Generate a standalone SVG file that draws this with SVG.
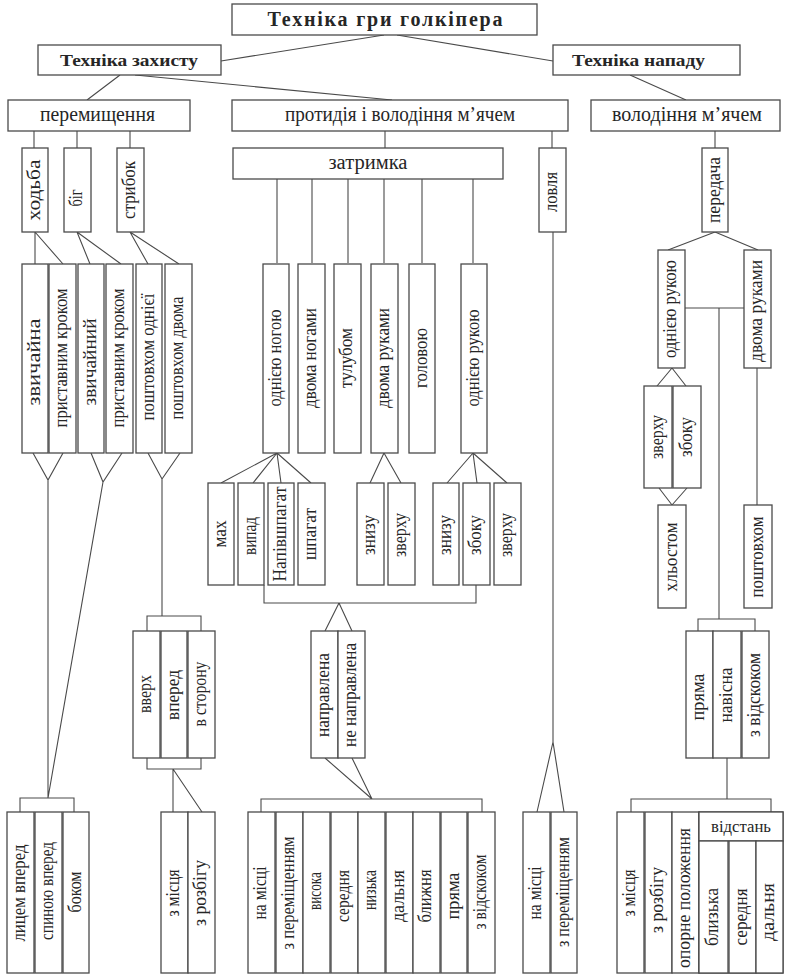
<svg xmlns="http://www.w3.org/2000/svg" width="789" height="976" viewBox="0 0 789 976">
<style>
.b{fill:#fff;stroke:#4a4a4a;stroke-width:1.3}
.l{fill:none;stroke:#4a4a4a;stroke-width:1.1}
text{font-family:"Liberation Serif","DejaVu Serif",serif;fill:#262626}
.hb{font-weight:bold;text-anchor:middle}
.h{font-size:20px;text-anchor:middle}
.v{font-size:18px;text-anchor:middle}
</style>
<rect width="789" height="976" fill="#fff"/>
<g id="connectors">
<path class="l" d="M384,35 L221,61 M397,35 L553,61 M120,75 L87,100 M135,75 L392,100 M630,75 L686,100"/>
<path class="l" d="M34,131 V148 M77,131 V148 M130,131 V148 M385,131 V148 M552,131 V148 M715,131 V148"/>
<path class="l" d="M277,179 V263 M312,179 V263 M348,179 V263 M384,179 V263 M422,179 V263 M473,179 V263"/>
<path class="l" d="M35,232 L35,264 M35,232 L63,264 M77,232 L90,264 M77,232 L121,264 M130,232 L148,264 M130,232 L179,264"/>
<path class="l" d="M33,453 L48,480 L63,453 M48,480 V798 M91,453 L103,482 L122,453 M103,482 L48,798 M148,453 L162,479 L180,453 M162,479 V616"/>
<path class="l" d="M147,631 V616 H201 V631 M147,758 V769 H201 V758 M173,769 V812 M173,769 L202,812 M20,812 V798 H74 V812"/>
<path class="l" d="M277,453 L221,483 M277,453 L253,483 M277,453 L281,483 M277,453 L311,483 M384,453 L370,483 M384,453 L401,483 M473,453 L447,483 M473,453 L477,483 M473,453 L507,483"/>
<path class="l" d="M264,585 V603 H476 V585 M339,603 L325,631 M339,603 L352,631 M325,758 L372,799 M352,758 L372,799 M261,812 V799 H482 V812"/>
<path class="l" d="M553,232 V742 M553,742 L537,812 M553,742 L564,812"/>
<path class="l" d="M715,232 L668,250 M715,232 L758,250 M685,308 H744 M719,308 V619 M698,631 V619 H755 V631 M672,368 L657,386 M672,368 L686,386 M659,488 L672,505 L687,488 M757,368 V505 M727,758 V799 M631,812 V799 H771 V812"/>
</g>
<g id="n_root"><rect class="b" x="232" y="4" width="305" height="31"/><text class="hb" x="385" y="26" font-size="20" textLength="235" lengthAdjust="spacing">Техніка гри голкіпера</text></g>
<g id="n_zakhyst"><rect class="b" x="38" y="45" width="183" height="30"/><text class="hb" x="129" y="66" font-size="17" textLength="138" lengthAdjust="spacingAndGlyphs">Техніка захисту</text></g>
<g id="n_napad"><rect class="b" x="553" y="45" width="187" height="30"/><text class="hb" x="638.5" y="66" font-size="17" textLength="133" lengthAdjust="spacingAndGlyphs">Техніка нападу</text></g>
<g id="n_perem"><rect class="b" x="8" y="100" width="182" height="31"/><text class="h" x="97.5" y="121" textLength="115" lengthAdjust="spacingAndGlyphs">перемищення</text></g>
<g id="n_protydiya"><rect class="b" x="232" y="100" width="336" height="31"/><text class="h" x="400" y="121" textLength="230" lengthAdjust="spacingAndGlyphs">протидія і володіння м’ячем</text></g>
<g id="n_volod"><rect class="b" x="591" y="100" width="189" height="31"/><text class="h" x="687" y="121" textLength="150" lengthAdjust="spacingAndGlyphs">володіння м’ячем</text></g>
<g id="n_zatrymka"><rect class="b" x="233" y="148" width="270" height="31"/><text class="h" x="368" y="169" textLength="79" lengthAdjust="spacingAndGlyphs">затримка</text></g>

<g id="n_khodba"><rect class="b" x="22" y="148" width="26" height="84"/><text class="v" transform="translate(39.5,190) rotate(-90)" textLength="61" lengthAdjust="spacingAndGlyphs">ходьба</text></g>
<g id="n_bih"><rect class="b" x="64" y="148" width="27" height="84"/><text class="v" transform="translate(82,198) rotate(-90)" textLength="17" lengthAdjust="spacingAndGlyphs">біг</text></g>
<g id="n_strybok"><rect class="b" x="117" y="148" width="27" height="84"/><text class="v" transform="translate(135,190) rotate(-90)" textLength="58" lengthAdjust="spacingAndGlyphs">стрибок</text></g>
<g id="n_lovlya"><rect class="b" x="539" y="148" width="27" height="84"/><text class="v" transform="translate(557,192) rotate(-90)" textLength="40" lengthAdjust="spacingAndGlyphs">ловля</text></g>
<g id="n_peredacha"><rect class="b" x="702" y="148" width="26" height="84"/><text class="v" transform="translate(719.5,190) rotate(-90)" textLength="66" lengthAdjust="spacingAndGlyphs">передача</text></g>

<g id="n_zvych1"><rect class="b" x="22" y="264" width="26" height="189"/><text class="v" transform="translate(39.5,362) rotate(-90)" textLength="87" lengthAdjust="spacingAndGlyphs">звичайна</text></g>
<g id="n_pryst1"><rect class="b" x="49" y="264" width="27" height="189"/><text class="v" transform="translate(67,358) rotate(-90)" textLength="139" lengthAdjust="spacingAndGlyphs">приставним кроком</text></g>
<g id="n_zvych2"><rect class="b" x="78" y="264" width="26" height="189"/><text class="v" transform="translate(95.5,362) rotate(-90)" textLength="87" lengthAdjust="spacingAndGlyphs">звичайний</text></g>
<g id="n_pryst2"><rect class="b" x="106" y="264" width="27" height="189"/><text class="v" transform="translate(124,358) rotate(-90)" textLength="139" lengthAdjust="spacingAndGlyphs">приставним кроком</text></g>
<g id="n_posht1"><rect class="b" x="136" y="264" width="26" height="189"/><text class="v" transform="translate(153.5,357) rotate(-90)" textLength="127" lengthAdjust="spacingAndGlyphs">поштовхом однієї</text></g>
<g id="n_posht2"><rect class="b" x="165" y="264" width="27" height="189"/><text class="v" transform="translate(183,358) rotate(-90)" textLength="123" lengthAdjust="spacingAndGlyphs">поштовхом двома</text></g>

<g id="n_odnoyu_nohoyu"><rect class="b" x="263" y="264" width="26" height="189"/><text class="v" transform="translate(280.5,358) rotate(-90)" textLength="97" lengthAdjust="spacingAndGlyphs">однією ногою</text></g>
<g id="n_dvoma_nohamy"><rect class="b" x="298" y="264" width="27" height="189"/><text class="v" transform="translate(316,358) rotate(-90)" textLength="100" lengthAdjust="spacingAndGlyphs">двома ногами</text></g>
<g id="n_tulubom"><rect class="b" x="334" y="264" width="27" height="189"/><text class="v" transform="translate(352,358) rotate(-90)" textLength="60" lengthAdjust="spacingAndGlyphs">тулубом</text></g>
<g id="n_dvoma_rukamy"><rect class="b" x="371" y="264" width="27" height="189"/><text class="v" transform="translate(389,358) rotate(-90)" textLength="100" lengthAdjust="spacingAndGlyphs">двома руками</text></g>
<g id="n_holovoyu"><rect class="b" x="409" y="264" width="26" height="189"/><text class="v" transform="translate(426.5,358) rotate(-90)" textLength="60" lengthAdjust="spacingAndGlyphs">головою</text></g>
<g id="n_odnoyu_rukoyu"><rect class="b" x="461" y="264" width="26" height="189"/><text class="v" transform="translate(478.5,358) rotate(-90)" textLength="97" lengthAdjust="spacingAndGlyphs">однією рукою</text></g>

<g id="n_r_odnoyu"><rect class="b" x="658" y="250" width="27" height="118"/><text class="v" transform="translate(676,309) rotate(-90)" textLength="98" lengthAdjust="spacingAndGlyphs">однією рукою</text></g>
<g id="n_r_dvoma"><rect class="b" x="744" y="250" width="27" height="118"/><text class="v" transform="translate(762,311) rotate(-90)" textLength="102" lengthAdjust="spacingAndGlyphs">двома руками</text></g>
<g id="n_r_zverkhu"><rect class="b" x="644" y="386" width="28" height="102"/><text class="v" transform="translate(662.5,437) rotate(-90)" textLength="44" lengthAdjust="spacingAndGlyphs">зверху</text></g>
<g id="n_r_zboku"><rect class="b" x="673" y="386" width="28" height="102"/><text class="v" transform="translate(691.5,437) rotate(-90)" textLength="40" lengthAdjust="spacingAndGlyphs">збоку</text></g>
<g id="n_khlostom"><rect class="b" x="658" y="505" width="28" height="103"/><text class="v" transform="translate(676.5,557) rotate(-90)" textLength="69" lengthAdjust="spacingAndGlyphs">хльостом</text></g>
<g id="n_r_poshtovkhom"><rect class="b" x="744" y="505" width="28" height="103"/><text class="v" transform="translate(762.5,557) rotate(-90)" textLength="81" lengthAdjust="spacingAndGlyphs">поштовхом</text></g>
<g id="n_r_pryama"><rect class="b" x="686" y="631" width="27" height="127"/><text class="v" transform="translate(704,697) rotate(-90)" textLength="47" lengthAdjust="spacingAndGlyphs">пряма</text></g>
<g id="n_r_navisna"><rect class="b" x="713" y="631" width="28" height="127"/><text class="v" transform="translate(731.5,695) rotate(-90)" textLength="55" lengthAdjust="spacingAndGlyphs">навісна</text></g>
<g id="n_r_vidskok"><rect class="b" x="742" y="631" width="27" height="127"/><text class="v" transform="translate(760,695) rotate(-90)" textLength="84" lengthAdjust="spacingAndGlyphs">з відскоком</text></g>

<g id="n_makh"><rect class="b" x="208" y="483" width="26" height="102"/><text class="v" transform="translate(225.5,534) rotate(-90)" textLength="27" lengthAdjust="spacingAndGlyphs">мах</text></g>
<g id="n_vypad"><rect class="b" x="238" y="483" width="26" height="102"/><text class="v" transform="translate(255.5,536) rotate(-90)" textLength="38" lengthAdjust="spacingAndGlyphs">випад</text></g>
<g id="n_napivshpahat"><rect class="b" x="268" y="483" width="26" height="102"/><text class="v" transform="translate(285.5,534) rotate(-90)" textLength="95" lengthAdjust="spacingAndGlyphs">Напівшпагат</text></g>
<g id="n_shpahat"><rect class="b" x="298" y="483" width="27" height="102"/><text class="v" transform="translate(316,534) rotate(-90)" textLength="52" lengthAdjust="spacingAndGlyphs">шпагат</text></g>
<g id="n_znyzu1"><rect class="b" x="357" y="483" width="27" height="102"/><text class="v" transform="translate(375,535) rotate(-90)" textLength="40" lengthAdjust="spacingAndGlyphs">знизу</text></g>
<g id="n_zverkhu1"><rect class="b" x="388" y="483" width="27" height="102"/><text class="v" transform="translate(406,535) rotate(-90)" textLength="44" lengthAdjust="spacingAndGlyphs">зверху</text></g>
<g id="n_znyzu2"><rect class="b" x="433" y="483" width="26" height="102"/><text class="v" transform="translate(450.5,535) rotate(-90)" textLength="40" lengthAdjust="spacingAndGlyphs">знизу</text></g>
<g id="n_zboku1"><rect class="b" x="463" y="483" width="27" height="102"/><text class="v" transform="translate(481,535) rotate(-90)" textLength="40" lengthAdjust="spacingAndGlyphs">збоку</text></g>
<g id="n_zverkhu2"><rect class="b" x="494" y="483" width="27" height="102"/><text class="v" transform="translate(512,535) rotate(-90)" textLength="44" lengthAdjust="spacingAndGlyphs">зверху</text></g>
<g id="n_napravlena"><rect class="b" x="311" y="631" width="27" height="127"/><text class="v" transform="translate(329,695) rotate(-90)" textLength="84" lengthAdjust="spacingAndGlyphs">направлена</text></g>
<g id="n_ne_napravlena"><rect class="b" x="338" y="631" width="27" height="127"/><text class="v" transform="translate(356,695) rotate(-90)" textLength="104" lengthAdjust="spacingAndGlyphs">не направлена</text></g>

<g id="n_vverkh"><rect class="b" x="133" y="631" width="27" height="127"/><text class="v" transform="translate(151,694) rotate(-90)" textLength="38" lengthAdjust="spacingAndGlyphs">вверх</text></g>
<g id="n_vpered"><rect class="b" x="161" y="631" width="26" height="127"/><text class="v" transform="translate(178.5,695) rotate(-90)" textLength="50" lengthAdjust="spacingAndGlyphs">вперед</text></g>
<g id="n_v_storonu"><rect class="b" x="188" y="631" width="27" height="127"/><text class="v" transform="translate(206,694) rotate(-90)" textLength="65" lengthAdjust="spacingAndGlyphs">в сторону</text></g>

<g id="n_lytsem"><rect class="b" x="7" y="812" width="27" height="161"/><text class="v" transform="translate(25,893) rotate(-90)" textLength="97" lengthAdjust="spacingAndGlyphs">лицем вперед</text></g>
<g id="n_spynoyu"><rect class="b" x="35" y="812" width="27" height="161"/><text class="v" transform="translate(53,891) rotate(-90)" textLength="98" lengthAdjust="spacingAndGlyphs">спиною вперед</text></g>
<g id="n_bokom"><rect class="b" x="63" y="812" width="26" height="161"/><text class="v" transform="translate(80.5,892) rotate(-90)" textLength="41" lengthAdjust="spacingAndGlyphs">боком</text></g>
<g id="n_z_mistsya1"><rect class="b" x="161" y="812" width="27" height="161"/><text class="v" transform="translate(179,893) rotate(-90)" textLength="47" lengthAdjust="spacingAndGlyphs">з місця</text></g>
<g id="n_z_rozbihu1"><rect class="b" x="188" y="812" width="27" height="161"/><text class="v" transform="translate(206,893) rotate(-90)" textLength="66" lengthAdjust="spacingAndGlyphs">з розбігу</text></g>

<g id="n_na_mistsi1"><rect class="b" x="248" y="812" width="27" height="161"/><text class="v" transform="translate(266,893) rotate(-90)" textLength="53" lengthAdjust="spacingAndGlyphs">на місці</text></g>
<g id="n_z_perem1"><rect class="b" x="276" y="812" width="27" height="161"/><text class="v" transform="translate(294,893) rotate(-90)" textLength="113" lengthAdjust="spacingAndGlyphs">з переміщенням</text></g>
<g id="n_vysoka"><rect class="b" x="303" y="812" width="27" height="161"/><text class="v" transform="translate(321,891) rotate(-90)" textLength="38" lengthAdjust="spacingAndGlyphs">висока</text></g>
<g id="n_serednya1"><rect class="b" x="331" y="812" width="27" height="161"/><text class="v" transform="translate(349,896) rotate(-90)" textLength="52" lengthAdjust="spacingAndGlyphs">середня</text></g>
<g id="n_nyzka"><rect class="b" x="358" y="812" width="27" height="161"/><text class="v" transform="translate(376,890) rotate(-90)" textLength="40" lengthAdjust="spacingAndGlyphs">низька</text></g>
<g id="n_dalnya1"><rect class="b" x="386" y="812" width="27" height="161"/><text class="v" transform="translate(404,896) rotate(-90)" textLength="52" lengthAdjust="spacingAndGlyphs">дальня</text></g>
<g id="n_blyzhnya"><rect class="b" x="413" y="812" width="27" height="161"/><text class="v" transform="translate(431,896) rotate(-90)" textLength="53" lengthAdjust="spacingAndGlyphs">ближня</text></g>
<g id="n_pryama1"><rect class="b" x="441" y="812" width="26" height="161"/><text class="v" transform="translate(458.5,896) rotate(-90)" textLength="47" lengthAdjust="spacingAndGlyphs">пряма</text></g>
<g id="n_vidskok1"><rect class="b" x="468" y="812" width="27" height="161"/><text class="v" transform="translate(486,892) rotate(-90)" textLength="75" lengthAdjust="spacingAndGlyphs">з відскоком</text></g>

<g id="n_na_mistsi2"><rect class="b" x="523" y="812" width="27" height="161"/><text class="v" transform="translate(541,893) rotate(-90)" textLength="53" lengthAdjust="spacingAndGlyphs">на місці</text></g>
<g id="n_z_perem2"><rect class="b" x="551" y="812" width="26" height="161"/><text class="v" transform="translate(568.5,892) rotate(-90)" textLength="110" lengthAdjust="spacingAndGlyphs">з переміщенням</text></g>

<g id="n_z_mistsya2"><rect class="b" x="617" y="812" width="27" height="161"/><text class="v" transform="translate(635,893) rotate(-90)" textLength="47" lengthAdjust="spacingAndGlyphs">з місця</text></g>
<g id="n_z_rozbihu2"><rect class="b" x="645" y="812" width="27" height="161"/><text class="v" transform="translate(663,900) rotate(-90)" textLength="66" lengthAdjust="spacingAndGlyphs">з розбігу</text></g>
<g id="n_oporne"><rect class="b" x="672" y="812" width="27" height="161"/><text class="v" transform="translate(690,898) rotate(-90)" textLength="140" lengthAdjust="spacingAndGlyphs">опорне положення</text></g>
<g id="n_vidstan">
<rect class="b" x="699" y="812" width="84" height="161"/>
<rect class="b" x="699" y="812" width="84" height="29"/>
<text x="741" y="832" font-size="17" text-anchor="middle" textLength="60" lengthAdjust="spacingAndGlyphs">відстань</text>
</g>
<g id="n_blyzka"><rect class="b" x="699" y="841" width="29" height="132"/><text class="v" transform="translate(718,917) rotate(-90)" textLength="58" lengthAdjust="spacingAndGlyphs">близька</text></g>
<g id="n_serednya2"><rect class="b" x="729" y="841" width="27" height="132"/><text class="v" transform="translate(747,917) rotate(-90)" textLength="57" lengthAdjust="spacingAndGlyphs">середня</text></g>
<g id="n_dalnya2"><rect class="b" x="756" y="841" width="27" height="132"/><text class="v" transform="translate(774,912) rotate(-90)" textLength="58" lengthAdjust="spacingAndGlyphs">дальня</text></g>
</svg>
